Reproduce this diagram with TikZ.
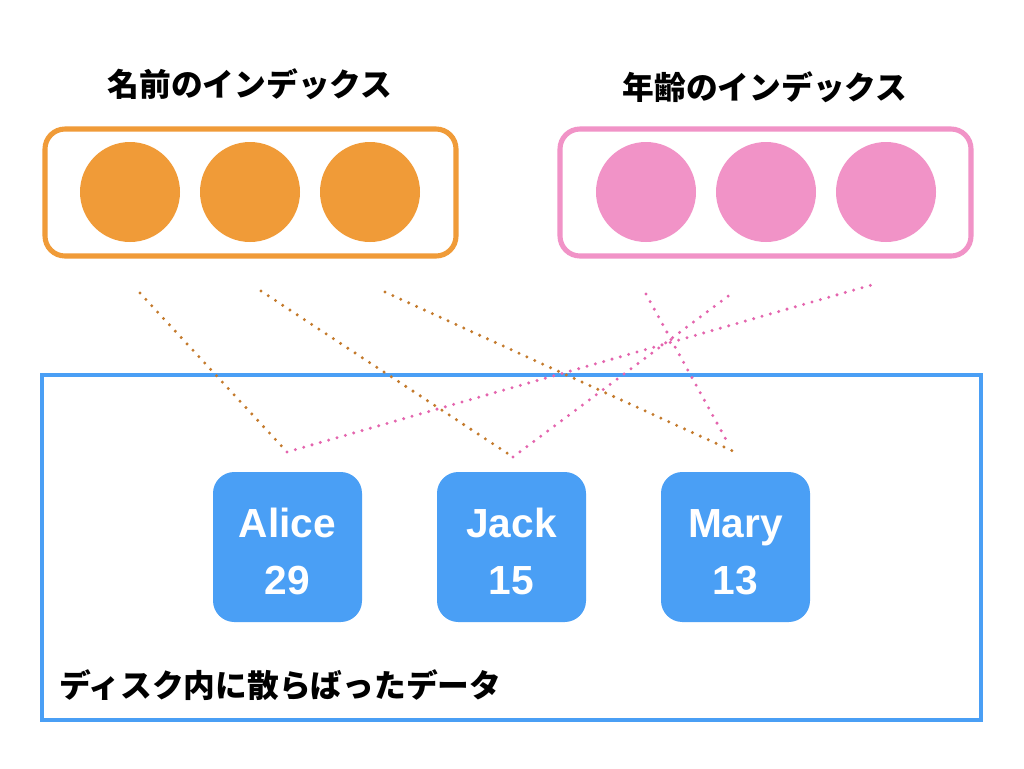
\documentclass[tikz,border=0pt]{standalone}
\usepackage{fontspec}
\setmainfont{Liberation Sans}
\newfontfamily\jp{Noto Sans CJK JP}
\newcommand{\rectext}[2]{\raisebox{-5.6pt}[\height][\depth]{\begin{tabular}{@{}c@{}}#1\\#2\end{tabular}}}
\begin{document}
\begin{tikzpicture}[x=0.75pt,y=-0.75pt,
  idxbox/.style={draw,line width=3.8pt,rounded corners=15pt},
  dot/.style={circle,minimum size=75pt,inner sep=0pt},
  rec/.style={fill=recblue,rounded corners=16pt,minimum width=111.75pt,minimum height=112.5pt,
    text=white,font=\fontsize{30.5}{42.5}\selectfont\bfseries,align=center,inner sep=0pt},
  title/.style={font=\jp\bfseries\fontsize{23.8}{27}\selectfont,inner sep=0pt},
  dotline/.style={line width=2.5pt,line cap=round,dash pattern=on 0pt off 6.5pt},
]
\definecolor{orng}{HTML}{F09B38}
\definecolor{pnk}{HTML}{F193C7}
\definecolor{recblue}{HTML}{4A9FF5}
\definecolor{oline}{HTML}{C47A2C}
\definecolor{pline}{HTML}{E465AE}
\useasboundingbox (0,0) rectangle (1024,768);
\fill[white] (0,0) rectangle (1024,768);

\node[title] (t1) at (250,84) {名前のインデックス};
\node[title] (t2) at (765,87) {年齢のインデックス};

\draw[idxbox,orng] (45,129) rectangle (456,256);
\draw[idxbox,pnk] (560,129) rectangle (971,256);

\node[dot,fill=orng] (o1) at (130,192) {};
\node[dot,fill=orng] (o2) at (250,192) {};
\node[dot,fill=orng] (o3) at (370,192) {};
\node[dot,fill=pnk] (p1) at (646,192) {};
\node[dot,fill=pnk] (p2) at (766,192) {};
\node[dot,fill=pnk] (p3) at (886,192) {};

\draw[recblue,line width=3pt] (42,375) rectangle (981,720);

\node[rec] (alice) at (287.5,547) {\rectext{Alice}{29}};
\node[rec] (jack) at (511.5,547) {\rectext{Jack}{15}};
\node[rec] (mary) at (735.5,547) {\rectext{Mary}{13}};

\node[font=\jp\bfseries\fontsize{23.8}{27}\selectfont,anchor=west,inner sep=0pt] (disk) at (59,685) {ディスク内に散らばったデータ};

\coordinate (os1) at (140,293);
\coordinate (os2) at (261,291);
\coordinate (os3) at (385,292);
\coordinate (ps1) at (646,294);
\coordinate (ps2) at (735,291);
\coordinate (ps3) at (875,284);
\coordinate (ea) at (287,452);
\coordinate (ej) at (513,457);
\coordinate (em) at (735,452);
\coordinate (em2) at (729,445);

\draw[dotline,oline] (os1) -- (ea);
\draw[dotline,oline] (os2) -- (ej);
\draw[dotline,oline] (os3) -- (em);
\draw[dotline,pline] (ea) -- (ps3);
\draw[dotline,pline] (ej) -- (ps2);
\draw[dotline,pline] (ps1) -- (em2);
\end{tikzpicture}
\end{document}
